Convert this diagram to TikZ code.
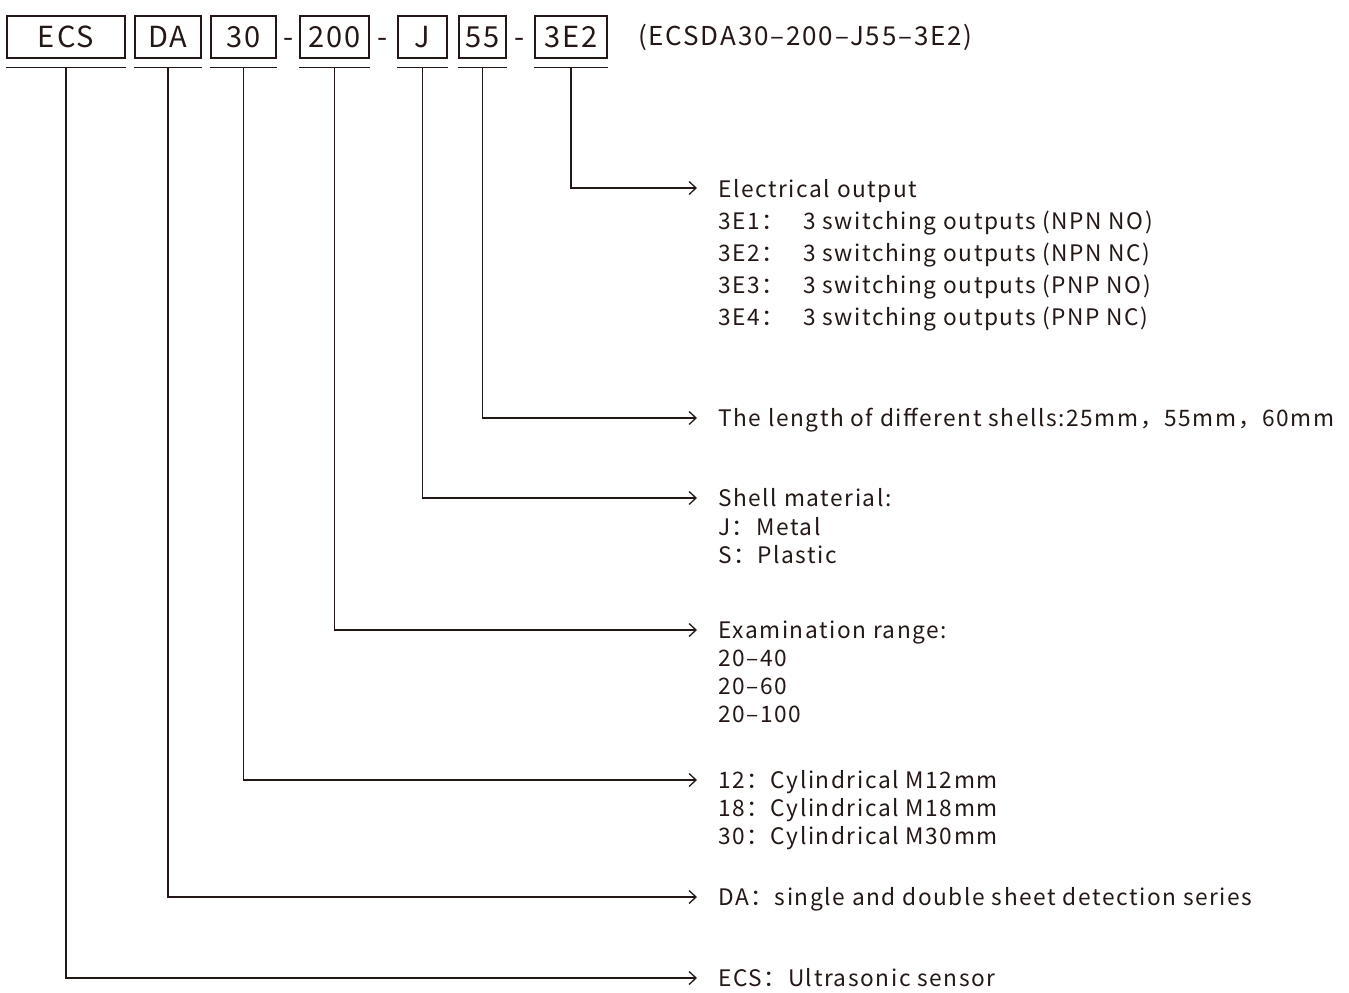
\documentclass[tikz,border=0pt]{standalone}
\usepackage{fontspec}
\setmainfont[LetterSpace=7]{Noto Sans CJK SC}
\usetikzlibrary{arrows.meta}
\definecolor{ink}{RGB}{35,24,21}
\begin{document}
\begin{tikzpicture}[x=1pt,y=-1pt,
  every node/.style={inner sep=0pt, text=ink},
  codebox/.style={draw=ink, line width=1.2pt, minimum height=42pt, font=\fontsize{29}{29}\selectfont, anchor=center},
  uline/.style={draw=ink, line width=1.2pt},
  lead/.style={draw=ink, line width=1.3pt, -{Straight Barb[length=7pt,width=13pt,line width=1.3pt]}},
  desc/.style={anchor=base west, font=\fontsize{22.7}{22.7}\selectfont},
  dashsym/.style={font=\fontsize{29}{29}\selectfont, anchor=center},
]
\useasboundingbox (0,0) rectangle (1349,993);
% code boxes
\node[codebox, minimum width=118pt] (ecs) at (66,37) {ECS};
\node[codebox, minimum width=66pt] (da) at (168,37) {DA};
\node[codebox, minimum width=65pt] (thirty) at (243.5,37) {30};
\node[codebox, minimum width=69pt] (range) at (334.5,37) {200};
\node[codebox, minimum width=49pt] (mat) at (422.5,37) {J};
\node[codebox, minimum width=47pt] (len) at (482.5,37) {55};
\node[codebox, minimum width=72pt] (out) at (571,37) {3E2};
\node[dashsym] (d1) at (289,43) {-};
\node[dashsym] (d2) at (383,43) {-};
\node[dashsym] (d3) at (520,43) {-};
\node[anchor=west, font=\fontsize{26}{26}\selectfont] (full) at (638,37) {(ECSDA30–200–J55–3E2)};
% underlines
\foreach \n in {ecs,da,thirty,range,mat,len,out}{
  \draw[uline] ([yshift=-9pt]\n.south west) -- ([yshift=-9pt]\n.south east);
}
% arrow targets
\coordinate (tout) at (697,188);
\coordinate (tlen) at (697,418);
\coordinate (tmat) at (697,498);
\coordinate (trange) at (697,630);
\coordinate (tthirty) at (697,780);
\coordinate (tda) at (697,897);
\coordinate (tecs) at (697,978);
\draw[lead] ([yshift=-9pt]out.south) |- (tout);
\draw[lead] ([yshift=-9pt]len.south) |- (tlen);
\draw[lead] ([yshift=-9pt]mat.south) |- (tmat);
\draw[lead] ([yshift=-9pt]range.south) |- (trange);
\draw[lead] ([yshift=-9pt]thirty.south) |- (tthirty);
\draw[lead] ([yshift=-9pt]da.south) |- (tda);
\draw[lead] ([yshift=-9pt]ecs.south) |- (tecs);
% descriptions
\node[desc] (el) at (718,197) {Electrical output};
\node[desc] (e1) at (718,229) {3E1：};
\node[desc] (e1d) at (803,229) {3 switching outputs (NPN NO)};
\node[desc] (e2) at (718,261) {3E2：};
\node[desc] (e2d) at (803,261) {3 switching outputs (NPN NC)};
\node[desc] (e3) at (718,293) {3E3：};
\node[desc] (e3d) at (803,293) {3 switching outputs (PNP NO)};
\node[desc] (e4) at (718,325) {3E4：};
\node[desc] (e4d) at (803,325) {3 switching outputs (PNP NC)};
\node[desc] (lentxt) at (718,426) {The length of different shells:25mm，55mm，60mm};
\node[desc] (sh) at (718,506) {Shell material:};
\node[desc] (shj) at (718,535) {J：Metal};
\node[desc] (shs) at (718,563) {S：Plastic};
\node[desc] (ex) at (718,638) {Examination range:};
\node[desc] (ex1) at (718,666) {20–40};
\node[desc] (ex2) at (718,694) {20–60};
\node[desc] (ex3) at (718,722) {20–100};
\node[desc] (c1) at (718,788) {12：Cylindrical M12mm};
\node[desc] (c2) at (718,816) {18：Cylindrical M18mm};
\node[desc] (c3) at (718,844) {30：Cylindrical M30mm};
\node[desc] (datxt) at (718,905) {DA：single and double sheet detection series};
\node[desc] (ecstxt) at (718,986) {ECS：Ultrasonic sensor};
\end{tikzpicture}
\end{document}
